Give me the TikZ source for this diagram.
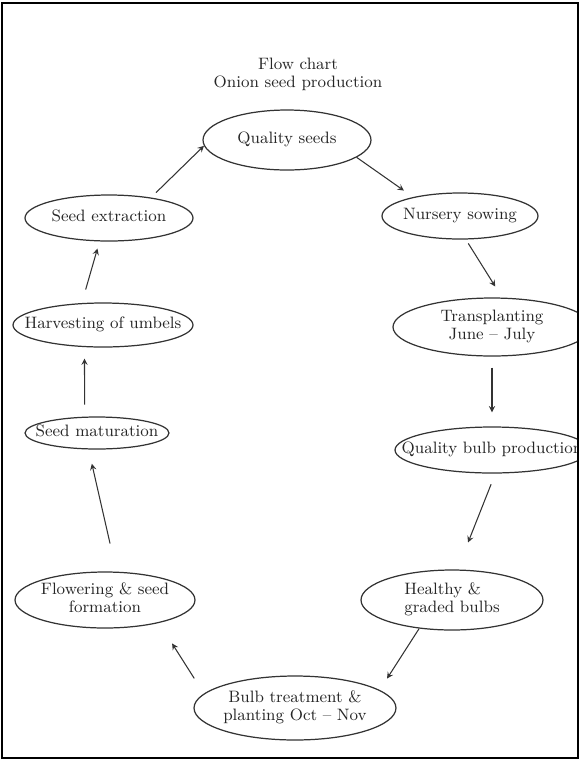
\documentclass[tikz,border=0pt]{standalone}
\usepackage{tikz}
\usetikzlibrary{arrows,shapes.geometric}
\newcommand{\stagetext}[2][c]{\makebox[0pt]{\begin{tabular}{@{}#1@{}}#2\end{tabular}}}

\begin{document}
\begin{tikzpicture}[x=0.02cm,y=-0.02cm,
   every node/.style={font=\fontsize{9.4}{10.3}\selectfont, text=black!85},
   stage/.style={draw=black!80, line width=0.7pt, ellipse, inner sep=0pt},
   flow/.style={->, >=stealth, draw=black!80, line width=0.6pt}]
  \useasboundingbox (0,0) rectangle (582,762);
  \draw[line width=1.2pt] (2,3) rectangle (578,758);
 \begin{scope}
  \clip (3,4) rectangle (577,757);
   \draw (298,74) node[align=center] (title) {Flow chart\\Onion seed production};
   \draw (287,140) node[stage, minimum width=3.36cm, minimum height=1.2cm] (qs) {\stagetext{Quality seeds}};
    \draw (460,216) node[stage, minimum width=3.12cm, minimum height=0.92cm] (ns) {\stagetext{Nursery sowing}};
    \draw (492,327) node[stage, minimum width=3.96cm, minimum height=1.16cm] (tr) {\stagetext{Transplanting\\June -- July}};
    \draw (492,450) node[stage, minimum width=3.88cm, minimum height=0.92cm] (qb) {\stagetext{Quality bulb production}};
    \draw (452,600) node[stage, minimum width=3.64cm, minimum height=1.2cm] (hb) {\stagetext[l]{Healthy \&\\graded bulbs}};
  \draw (295,708) node[stage, minimum width=4.04cm, minimum height=1.28cm] (bt) {\stagetext{Bulb treatment \&\\planting Oct -- Nov}};
   \draw (105,600) node[stage, minimum width=3.6cm, minimum height=1.12cm] (fl) {\stagetext{Flowering \& seed\\formation}};
   \draw (97,433) node[stage, minimum width=2.88cm, minimum height=0.64cm] (sm) {\stagetext{Seed maturation}};
   \draw (103,325) node[stage, minimum width=3.6cm, minimum height=0.88cm] (hu) {\stagetext{Harvesting of umbels}};
   \draw (109,218) node[stage, minimum width=3.36cm, minimum height=0.92cm] (se) {\stagetext{Seed extraction}};

   \path (se.26) edge[flow, shorten <=4pt] (qs.184);
   \path (qs.-14) edge[flow, shorten >=6.4pt] (ns.158.5);
   \path (ns.-76) edge[flow, shorten <=2.6pt, shorten >=7.4pt] (tr.71);
   \path (tr.south) edge[flow, shorten <=6.3pt, shorten >=8pt] (qb.north);
   \path (qb.-82) edge[flow, shorten <=6.5pt, shorten >=16.5pt] (hb.80);
   \path (hb.221) edge[flow, shorten >=7.7pt] (bt.12);
   \path (bt.171.5) edge[flow, shorten <=10.2pt, shorten >=13.8pt] (fl.-23);
   \path (fl.68) edge[flow, shorten <=16.4pt, shorten >=8.3pt] (sm.243);
   \path (sm.127) edge[flow, shorten <=6.8pt, shorten >=6.5pt] (hu.230);
   \path (hu.134) edge[flow, shorten <=8pt, shorten >=4.2pt] (se.248.5);
 \end{scope}
\end{tikzpicture}
\end{document}
